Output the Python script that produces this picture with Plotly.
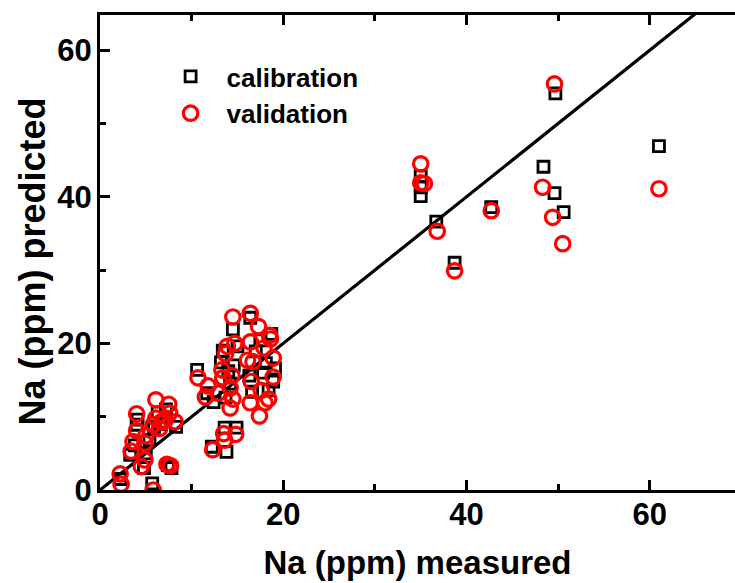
import plotly.graph_objects as go

# calibration set (squares)
cal_x = [2.2, 5.7, 3.3, 3.8, 4.0, 4.1, 4.8, 5.0, 5.4, 5.9, 6.3, 6.6, 7.2, 7.4, 7.8, 8.3,
         10.6, 11.7, 12.2, 12.4, 13.2, 13.4, 13.6, 13.8, 13.7, 14.0, 14.2, 14.5, 14.6, 14.9,
         15.0, 16.3, 16.4, 16.6, 17.0, 17.5, 17.8, 18.1, 18.4, 18.7, 19.1, 18.9,
         35.0, 35.0, 35.0, 36.7, 38.7, 42.7, 48.4, 49.6, 50.6, 49.7, 61.0]
cal_y = [1.5, 0.9, 4.8, 6.1, 8.9, 9.6, 3.0, 5.0, 6.8, 8.6, 10.6, 9.0, 11.0, 3.4, 3.0, 8.6,
         16.4, 13.2, 5.9, 12.0, 17.4, 19.0, 8.5, 5.2, 12.6, 16.2, 14.5, 21.9, 17.0, 8.5,
         19.6, 15.6, 23.5, 13.4, 18.9, 20.4, 16.0, 17.3, 13.6, 21.3, 16.6, 14.8,
         42.8, 41.3, 40.1, 36.6, 31.0, 38.6, 44.1, 40.5, 37.9, 54.1, 46.9]

# validation set (circles)
val_x = [2.2, 2.3, 5.8, 4.0, 4.0, 3.6, 3.4, 5.0, 4.9, 4.9, 4.5, 6.1, 7.5, 7.6, 6.1, 6.7,
         7.1, 8.2, 6.5, 5.8, 7.3, 7.7,
         14.5, 16.4, 17.3, 18.5, 18.6, 16.4, 14.7, 13.9, 13.7, 17.9, 18.9, 16.7, 16.1,
         10.7, 11.8, 13.3, 13.4, 14.4, 14.2, 16.5, 18.9, 17.6, 18.4, 18.0, 16.4, 14.5,
         14.2, 17.4, 11.5, 12.9, 13.5, 13.6, 14.8, 12.3,
         35.0, 35.0, 35.4, 36.8, 38.7, 42.7, 48.3, 49.4, 50.5, 49.6, 61.0]
val_y = [2.2, 0.8, 0.0, 10.4, 8.1, 6.6, 5.3, 7.4, 6.4, 4.1, 3.2, 12.3, 11.7, 10.5, 9.8, 9.3,
         9.5, 9.3, 8.4, 8.9, 3.5, 3.3,
         23.6, 24.1, 22.3, 21.1, 20.6, 20.2, 20.0, 19.6, 18.6, 19.4, 18.0, 17.5, 17.7,
         15.3, 14.2, 16.4, 15.3, 15.6, 13.9, 14.8, 15.4, 13.6, 12.4, 11.9, 11.9, 12.4,
         11.2, 10.1, 12.7, 13.2, 7.7, 6.8, 7.6, 5.5,
         44.5, 41.9, 41.8, 35.3, 29.9, 38.1, 41.3, 37.2, 33.6, 55.4, 41.1]

# 1:1 reference line
line_x = [0, 70]
line_y = [0, 70]

x_range = [0, 69.3]
y_range = [0, 64.8]

FAM = "Liberation Sans, Arial, sans-serif"
tick_font = dict(family=FAM, size=31, color="black", weight="bold")
xtitle_font = dict(family=FAM, size=33, color="black", weight="bold")
ytitle_font = dict(family=FAM, size=36, color="black", weight="bold")

fig = go.Figure()
fig.add_trace(go.Scatter(x=line_x, y=line_y, mode="lines",
                         line=dict(color="black", width=3.2), showlegend=False,
                         hoverinfo="skip"))
fig.add_trace(go.Scatter(x=cal_x, y=cal_y, mode="markers", name="calibration",
                         marker=dict(symbol="square-open", size=11, color="black",
                                     line=dict(width=2.8, color="black"))))
fig.add_trace(go.Scatter(x=val_x, y=val_y, mode="markers", name="validation",
                         marker=dict(symbol="circle-open", size=14.5, color="red",
                                     line=dict(width=3.2, color="red"))))

axis_common = dict(showline=True, linewidth=3, linecolor="black",
                   ticks="inside", ticklen=10, tickwidth=3, tickcolor="black",
                   showgrid=False, zeroline=False, tickfont=tick_font,
                   minor=dict(ticks="inside", ticklen=6, tickwidth=3, tickcolor="black", dtick=10))

fig.update_layout(
    width=735, height=583,
    margin=dict(l=100, r=0, t=15, b=93),
    paper_bgcolor="white", plot_bgcolor="white",
    xaxis=dict(range=x_range, tick0=0, dtick=20, mirror="ticks",
               ticklabelstandoff=-5,
               title=dict(text="Na (ppm) measured", font=xtitle_font, standoff=20),
               **axis_common),
    yaxis=dict(range=y_range, tick0=0, dtick=20, mirror=False,
               ticklabelstandoff=-1,
               **axis_common),
    yaxis2=dict(range=y_range, overlaying="y", side="right", anchor="x",
                tick0=0, dtick=20, ticks="inside", ticklen=4, tickwidth=3,
                tickcolor="black", showticklabels=False, showline=False,
                showgrid=False, zeroline=False),
    legend=dict(x=0.086, y=0.92, xanchor="left", yanchor="top",
                bgcolor="rgba(0,0,0,0)",
                font=dict(family=FAM, size=26, color="black", weight="bold"),
                tracegroupgap=0, itemwidth=62),
    annotations=[dict(text="Na (ppm) predicted", textangle=-90, showarrow=False,
                      xref="paper", yref="paper", x=-0.107, y=0.481,
                      xanchor="center", yanchor="middle", font=ytitle_font)],
    showlegend=True,
)

fig.write_html("out.html")
